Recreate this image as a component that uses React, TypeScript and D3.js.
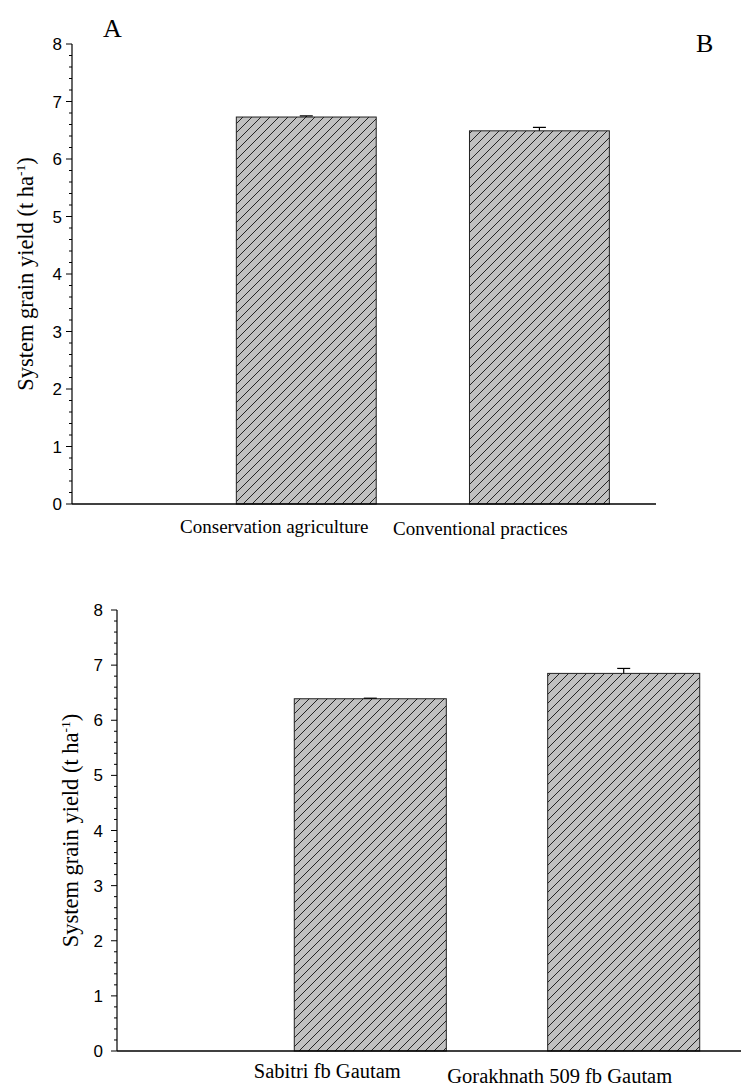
import React from "react";
import * as d3 from "d3";

// ---------- data ----------
const categoriesA = ["Conservation agriculture", "Conventional practices"];
const valuesA = [6.73, 6.49];
const errorsA = [0.02, 0.06];

const categoriesB = ["Sabitri fb Gautam", "Gorakhnath 509 fb Gautam"];
const valuesB = [6.39, 6.85];
const errorsB = [0.01, 0.09];

const yTicks = [0, 1, 2, 3, 4, 5, 6, 7, 8];
const yTitle = "System grain yield (t ha";
const panelLetters = ["A", "B"];

// ---------- layout ----------
type Panel = {
  cats: string[];
  vals: number[];
  errs: number[];
  axisX: number;
  y0: number;
  y8: number;
  bandStart: number;
  bandEnd: number;
  axisEnd: number;
  labelDx: number[];
  labelY: number[];
  labelSize: number;
  titleX: number;
  tickLabelGap: number;
  id: string;
};

const panels: Panel[] = [
  {
    cats: categoriesA,
    vals: valuesA,
    errs: errorsA,
    axisX: 72,
    y0: 504,
    y8: 44,
    bandStart: 189.7,
    bandEnd: 656,
    axisEnd: 656,
    labelDx: [-32, -59],
    labelY: [533, 535],
    labelSize: 19,
    titleX: 33,
    tickLabelGap: 10,
    id: "a",
  },
  {
    cats: categoriesB,
    vals: valuesB,
    errs: errorsB,
    axisX: 117,
    y0: 1051,
    y8: 610,
    bandStart: 243.6,
    bandEnd: 750.4,
    axisEnd: 760,
    labelDx: [-43, -64],
    labelY: [1078, 1083],
    labelSize: 20.5,
    titleX: 78,
    tickLabelGap: 14,
    id: "b",
  },
];

function PanelChart({ p }: { p: Panel }) {
  const y = d3.scaleLinear().domain([0, 8]).range([p.y0, p.y8]);
  const x = d3
    .scaleBand<string>()
    .domain(p.cats)
    .range([p.bandStart, p.bandEnd])
    .paddingInner(0.4)
    .paddingOuter(0.2);
  const minor = d3.range(0, 8.0001, 0.2).filter((v) => Math.abs(v - Math.round(v)) > 1e-6);
  const midY = (p.y0 + p.y8) / 2;
  return (
    <g>
      {p.cats.map((c, i) => (
        <rect
          key={c}
          x={x(c)}
          y={y(p.vals[i])}
          width={x.bandwidth()}
          height={y(0) - y(p.vals[i])}
          fill="url(#hatch)"
          stroke="#222"
          strokeWidth={1}
        />
      ))}
      {p.cats.map((c, i) => {
        const cx = (x(c) as number) + x.bandwidth() / 2;
        const top = y(p.vals[i] + p.errs[i]);
        return (
          <g key={"e" + c} stroke="#000" strokeWidth={1.2}>
            <line x1={cx} x2={cx} y1={y(p.vals[i])} y2={top} />
            <line x1={cx - 6.5} x2={cx + 6.5} y1={top} y2={top} />
          </g>
        );
      })}
      <line x1={p.axisX} x2={p.axisX} y1={y(0)} y2={y(8)} stroke="#000" strokeWidth={1.2} />
      {yTicks.map((t) => (
        <g key={"t" + t}>
          <line x1={p.axisX - 6} x2={p.axisX} y1={y(t)} y2={y(t)} stroke="#000" strokeWidth={1} />
          <text
            x={p.axisX - p.tickLabelGap}
            y={y(t)}
            dy="0.36em"
            textAnchor="end"
            fontFamily="Liberation Sans, Arial, sans-serif"
            fontSize={17}
            fill="#000"
          >
            {t}
          </text>
        </g>
      ))}
      {minor.map((t) => (
        <line key={"m" + t} x1={p.axisX - 3} x2={p.axisX} y1={y(t)} y2={y(t)} stroke="#000" strokeWidth={1} />
      ))}
      <line x1={p.axisX} x2={p.axisEnd} y1={y(0)} y2={y(0)} stroke="#000" strokeWidth={1.6} />
      {p.cats.map((c, i) => (
        <text
          key={"l" + c}
          x={(x(c) as number) + x.bandwidth() / 2 + p.labelDx[i]}
          y={p.labelY[i]}
          textAnchor="middle"
          fontFamily="Liberation Serif, Times New Roman, serif"
          fontSize={p.labelSize}
          fill="#000"
        >
          {c}
        </text>
      ))}
      <text
        transform={`translate(${p.titleX},${midY}) rotate(-90)`}
        textAnchor="middle"
        fontFamily="Liberation Serif, Times New Roman, serif"
        fontSize={22.5}
        fill="#000"
      >
        {yTitle}
        <tspan fontSize={13.5} dy={-8}>-1</tspan>
        <tspan dy={8}>)</tspan>
      </text>
    </g>
  );
}

export default function App() {
  return (
    <svg
      width={741}
      height={1086}
      style={{ position: "absolute", left: 0, top: 0, background: "#fff" }}
    >
      <defs>
        <pattern id="hatch" patternUnits="userSpaceOnUse" width={9} height={9}>
          <rect width={9} height={9} fill="#c0c0c0" />
          <path d="M0,9 L9,0 M-2,2 L2,-2 M7,11 L11,7" stroke="#111" strokeWidth={0.9} />
        </pattern>
      </defs>
      <rect width={741} height={1086} fill="#fff" />
      {panels.map((p) => (
        <PanelChart key={p.id} p={p} />
      ))}
      <text x={103} y={37} fontFamily="Liberation Serif, Times New Roman, serif" fontSize={26} fill="#000">
        {panelLetters[0]}
      </text>
      <text x={696} y={52} fontFamily="Liberation Serif, Times New Roman, serif" fontSize={26} fill="#000">
        {panelLetters[1]}
      </text>
    </svg>
  );
}
